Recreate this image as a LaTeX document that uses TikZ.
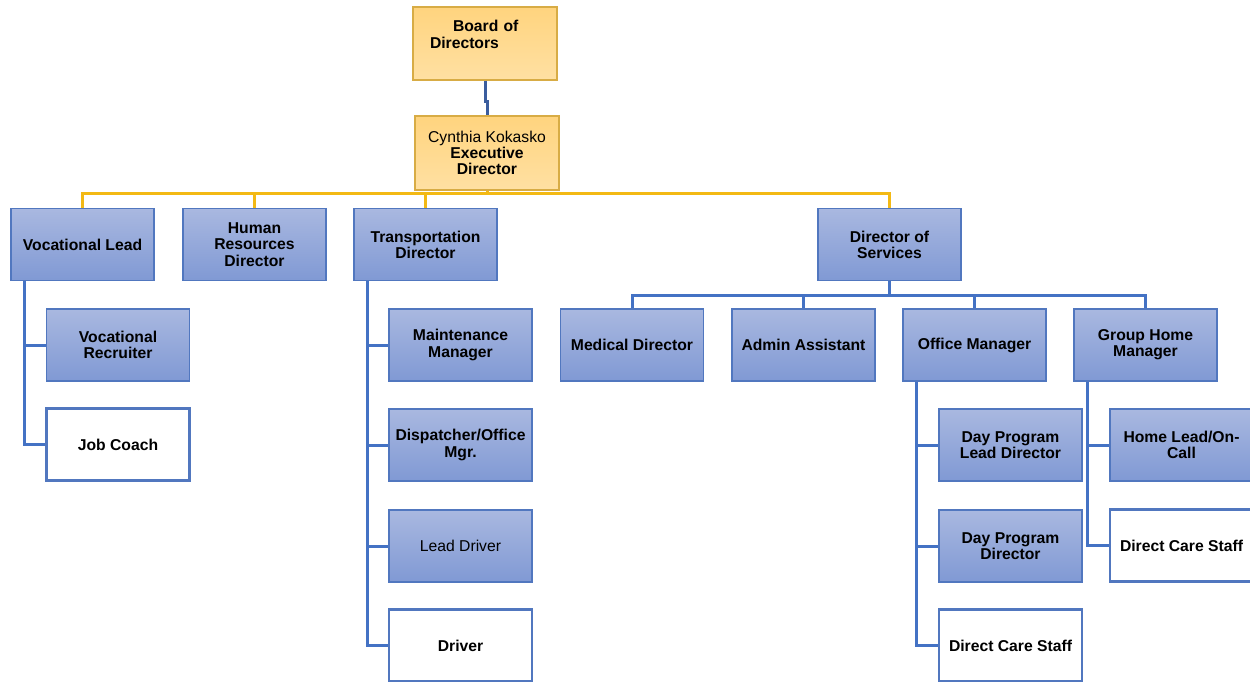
\documentclass[tikz,border=0pt]{standalone}
\usepackage{fontspec}
\setmainfont{Liberation Sans}
\definecolor{bxtop}{HTML}{A9B8E0}
\definecolor{bxbot}{HTML}{8099D4}
\definecolor{bxline}{HTML}{5177BF}
\definecolor{gdtop}{HTML}{FFD47E}
\definecolor{gdbot}{HTML}{FFE0A3}
\definecolor{gdline}{HTML}{D8AC45}
\definecolor{conn}{HTML}{4472C4}
\definecolor{conndark}{HTML}{3B5D9E}
\definecolor{gconn}{HTML}{F3B914}
\begin{document}
\begin{tikzpicture}[x=1pt,y=-1pt,
  base/.style={rectangle, minimum width=143pt, minimum height=72pt, inner sep=2pt, align=center,
    font=\fontsize{15.7}{16.2}\selectfont, text=black},
  bluebox/.style={base, font=\fontsize{15.7}{16.2}\selectfont\bfseries, top color=bxtop, bottom color=bxbot, draw=bxline, line width=1.8pt},
  whitebox/.style={base, font=\fontsize{15.7}{16.2}\selectfont\bfseries, fill=white, draw=bxline, line width=2.6pt},
  goldbox/.style={base, top color=gdtop, bottom color=gdbot, draw=gdline, line width=1.4pt},
  link/.style={draw=conn, line width=3pt},
  glink/.style={draw=gconn, line width=3pt}]
\useasboundingbox[fill=white] (0,0) rectangle (1250,682);

% top
\node[goldbox, minimum height=73pt, text width=110pt, inner xsep=17pt, align=left] (board) at (485,43.5)
  {\bfseries\hspace*{23pt}Board of\\Directors\\[2pt]\mbox{}};
\node[goldbox, minimum width=144pt, minimum height=74pt] (exec) at (487,153)
  {Cynthia Kokasko\\\textbf{Executive}\\\textbf{Director}};

% level 2
\node[bluebox] (vl) at (82.5,244.5) {Vocational Lead};
\node[bluebox] (hr) at (254.5,244.5) {Human\\Resources\\Director};
\node[bluebox] (td) at (425.5,244.5) {Transportation\\Director};
\node[bluebox] (ds) at (889.5,244.5) {Director of\\Services};

% vocational branch
\node[bluebox] (vr) at (118,345) {Vocational\\Recruiter};
\node[whitebox] (jc) at (118,444.5) {Job Coach};

% transportation branch
\node[bluebox] (mm) at (460.5,345) {Maintenance\\Manager};
\node[bluebox] (dom) at (460.5,445) {Dispatcher/Office\\Mgr.};
\node[bluebox] (ld) at (460.5,546) {\mdseries Lead Driver};
\node[whitebox] (dr) at (460.5,645.5) {Driver};

% services level
\node[bluebox] (md) at (632,345) {Medical Director};
\node[bluebox] (aa) at (803.5,345) {Admin Assistant};
\node[bluebox] (om) at (974.5,345) {Office Manager};
\node[bluebox] (gh) at (1145.5,345) {Group Home\\Manager};

% office manager branch
\node[bluebox] (dpl) at (1010.5,445) {Day Program\\Lead Director};
\node[bluebox] (dpd) at (1010.5,546) {Day Program\\Director};
\node[whitebox] (dcsa) at (1010.5,645.5) {Direct Care Staff};

% group home branch
\node[bluebox] (hl) at (1181.5,445) {Home Lead/On-\\Call};
\node[whitebox] (dcsb) at (1181.5,545.5) {Direct Care Staff};

% connectors
\draw[link, draw=conndark] (board.south) -- ++(0,21) -| (exec.north);

\coordinate (gbus) at (487,193);
\draw[glink] (exec.south) -- (exec.south |- gbus);
\draw[glink] (vl.north) |- (ds.north |- gbus) -- (ds.north);
\draw[glink] (hr.north) -- (hr.north |- gbus);
\draw[glink] (td.north) -- (td.north |- gbus);

\coordinate (bbus) at (889,295);
\draw[link] (ds.south) -- (ds.south |- bbus);
\draw[link] (md.north) |- (gh.north |- bbus) -- (gh.north);
\draw[link] (aa.north) -- (aa.north |- bbus);
\draw[link] (om.north) -- (om.north |- bbus);

\coordinate (vlx) at ([xshift=14pt]vl.south west);
\draw[link] (vlx) |- (jc.west);
\draw[link] (vr.west) -- (vr.west -| vlx);

\coordinate (tdx) at ([xshift=14pt]td.south west);
\draw[link] (tdx) |- (dr.west);
\draw[link] (mm.west) -- (mm.west -| tdx);
\draw[link] (dom.west) -- (dom.west -| tdx);
\draw[link] (ld.west) -- (ld.west -| tdx);

\coordinate (omx) at ([xshift=14pt]om.south west);
\draw[link] (omx) |- (dcsa.west);
\draw[link] (dpl.west) -- (dpl.west -| omx);
\draw[link] (dpd.west) -- (dpd.west -| omx);

\coordinate (ghx) at ([xshift=14pt]gh.south west);
\draw[link] (ghx) |- (dcsb.west);
\draw[link] (hl.west) -- (hl.west -| ghx);
\end{tikzpicture}
\end{document}
